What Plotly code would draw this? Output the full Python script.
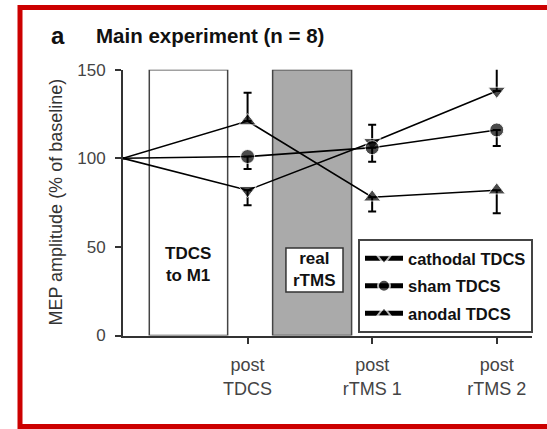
import plotly.graph_objects as go

# ---- data ----
timepoints = [0, 1, 2, 3]
tick_vals = [1, 2, 3]
tick_labels = ["post<br>TDCS", "post<br>rTMS 1", "post<br>rTMS 2"]
y_ticks = [0, 50, 100, 150]

series_names = ["cathodal TDCS", "sham TDCS", "anodal TDCS"]
cathodal = [100, 82, 109, 138]
sham = [100, 101, 106, 116]
anodal = [100, 121, 78, 82]
cathodal_err_up = [0, 0, 10, 18]
cathodal_err_down = [0, 8.5, 0, 0]
sham_err_up = [0, 0, 0, 0]
sham_err_down = [0, 7, 8, 9]
anodal_err_up = [0, 16, 0, 0]
anodal_err_down = [0, 0, 8, 13]
symbols = ["triangle-down", "circle", "triangle-up"]

# intervention periods (x in timepoint units)
tdcs_period = (0.211, 0.840)
rtms_period = (1.201, 1.835)

W, H = 547, 429
FONT = "Arial, Liberation Sans, sans-serif"

fig = go.Figure()

vals = [cathodal, sham, anodal]
ups = [cathodal_err_up, sham_err_up, anodal_err_up]
downs = [cathodal_err_down, sham_err_down, anodal_err_down]
msizes = [15, 14, 15]
for i, name in enumerate(series_names):
    fig.add_trace(go.Scatter(
        x=timepoints, y=vals[i], name=name, mode="lines+markers",
        legendgroup=name,
        line=dict(color="black", width=1.6),
        marker=dict(symbol=symbols[i], color="black",
                    size=[0] + [msizes[i]] * (len(timepoints) - 1)),
        error_y=dict(type="data", symmetric=False, array=ups[i],
                     arrayminus=downs[i], color="black", thickness=2, width=4),
    ))

# intervention boxes
fig.add_shape(type="rect", xref="x", yref="y", x0=tdcs_period[0], x1=tdcs_period[1],
              y0=0, y1=150, fillcolor="white", line=dict(color="#444", width=1.5),
              layer="below")
fig.add_shape(type="rect", xref="x", yref="y", x0=rtms_period[0], x1=rtms_period[1],
              y0=0, y1=150, fillcolor="#aaaaaa", line=dict(color="#444", width=1.5),
              layer="below")
fig.add_shape(type="rect", xref="x", yref="y", x0=1.308, x1=1.766, y0=24.5, y1=49.4,
              fillcolor="white", line=dict(color="#333", width=1.5), layer="above")

fig.add_annotation(x=(tdcs_period[0] + tdcs_period[1]) / 2, y=39.8, xref="x", yref="y",
                   text="TDCS<br>to M1", showarrow=False,
                   font=dict(family=FONT, size=17, color="#111", weight="bold"))
fig.add_annotation(x=1.537, y=37.0, xref="x", yref="y",
                   text="real<br>rTMS", showarrow=False,
                   font=dict(family=FONT, size=17, color="#111", weight="bold"))

# titles
fig.add_annotation(x=58 / W, y=1 - 35 / H, xref="paper", yref="paper", text="a",
                   showarrow=False, xanchor="center", yanchor="middle",
                   font=dict(family=FONT, size=24, color="#111", weight="bold"))
fig.add_annotation(x=94 / W, y=1 - 35 / H, xref="paper", yref="paper",
                   text="Main experiment (n = 8)", showarrow=False,
                   xanchor="left", yanchor="middle",
                   font=dict(family=FONT, size=20.5, color="#111", weight="bold"))
fig.add_annotation(x=56 / W, y=1 - 202.6 / H, xref="paper", yref="paper",
                   text="MEP amplitude (% of baseline)", showarrow=False,
                   textangle=-90, xanchor="center", yanchor="middle",
                   font=dict(family=FONT, size=18, color="#333"))

# red frame
fig.add_shape(type="rect", xref="paper", yref="paper",
              x0=20 / W, x1=1.2, y0=(H - 426.5) / H, y1=1 - 7.5 / H,
              line=dict(color="#cc0000", width=5), fillcolor="rgba(0,0,0,0)")

fig.update_layout(
    width=W, height=H,
    margin=dict(l=0, r=0, t=0, b=0, pad=0, autoexpand=False),
    paper_bgcolor="white", plot_bgcolor="white",
    showlegend=True,
    legend=dict(x=533 / W, xanchor="right", y=1 - 239 / H, yanchor="top",
                bgcolor="white", bordercolor="#444", borderwidth=2,
                tracegroupgap=3, itemsizing="constant", itemwidth=38,
                font=dict(family=FONT, size=16.5, color="#111", weight="bold")),
    xaxis=dict(domain=[123 / W, 532 / W], range=[0, 3.283], automargin=False,
               tickmode="array", tickvals=tick_vals, ticktext=tick_labels,
               showline=True, linecolor="#333", linewidth=2,
               ticks="outside", ticklen=6, tickwidth=1.5, tickcolor="#333",
               showgrid=False, zeroline=False, ticklabelstandoff=6,
               tickfont=dict(family=FONT, size=18, color="#444")),
    yaxis=dict(domain=[(H - 335.5) / H, (H - 69.7) / H], range=[0, 150],
               automargin=False,
               tickmode="array", tickvals=y_ticks,
               showline=True, linecolor="#333", linewidth=2,
               ticks="outside", ticklen=6, tickwidth=1.5, tickcolor="#333",
               showgrid=False, zeroline=False, ticklabelstandoff=6,
               tickfont=dict(family=FONT, size=17, color="#444")),
)

fig.write_html("out.html")
